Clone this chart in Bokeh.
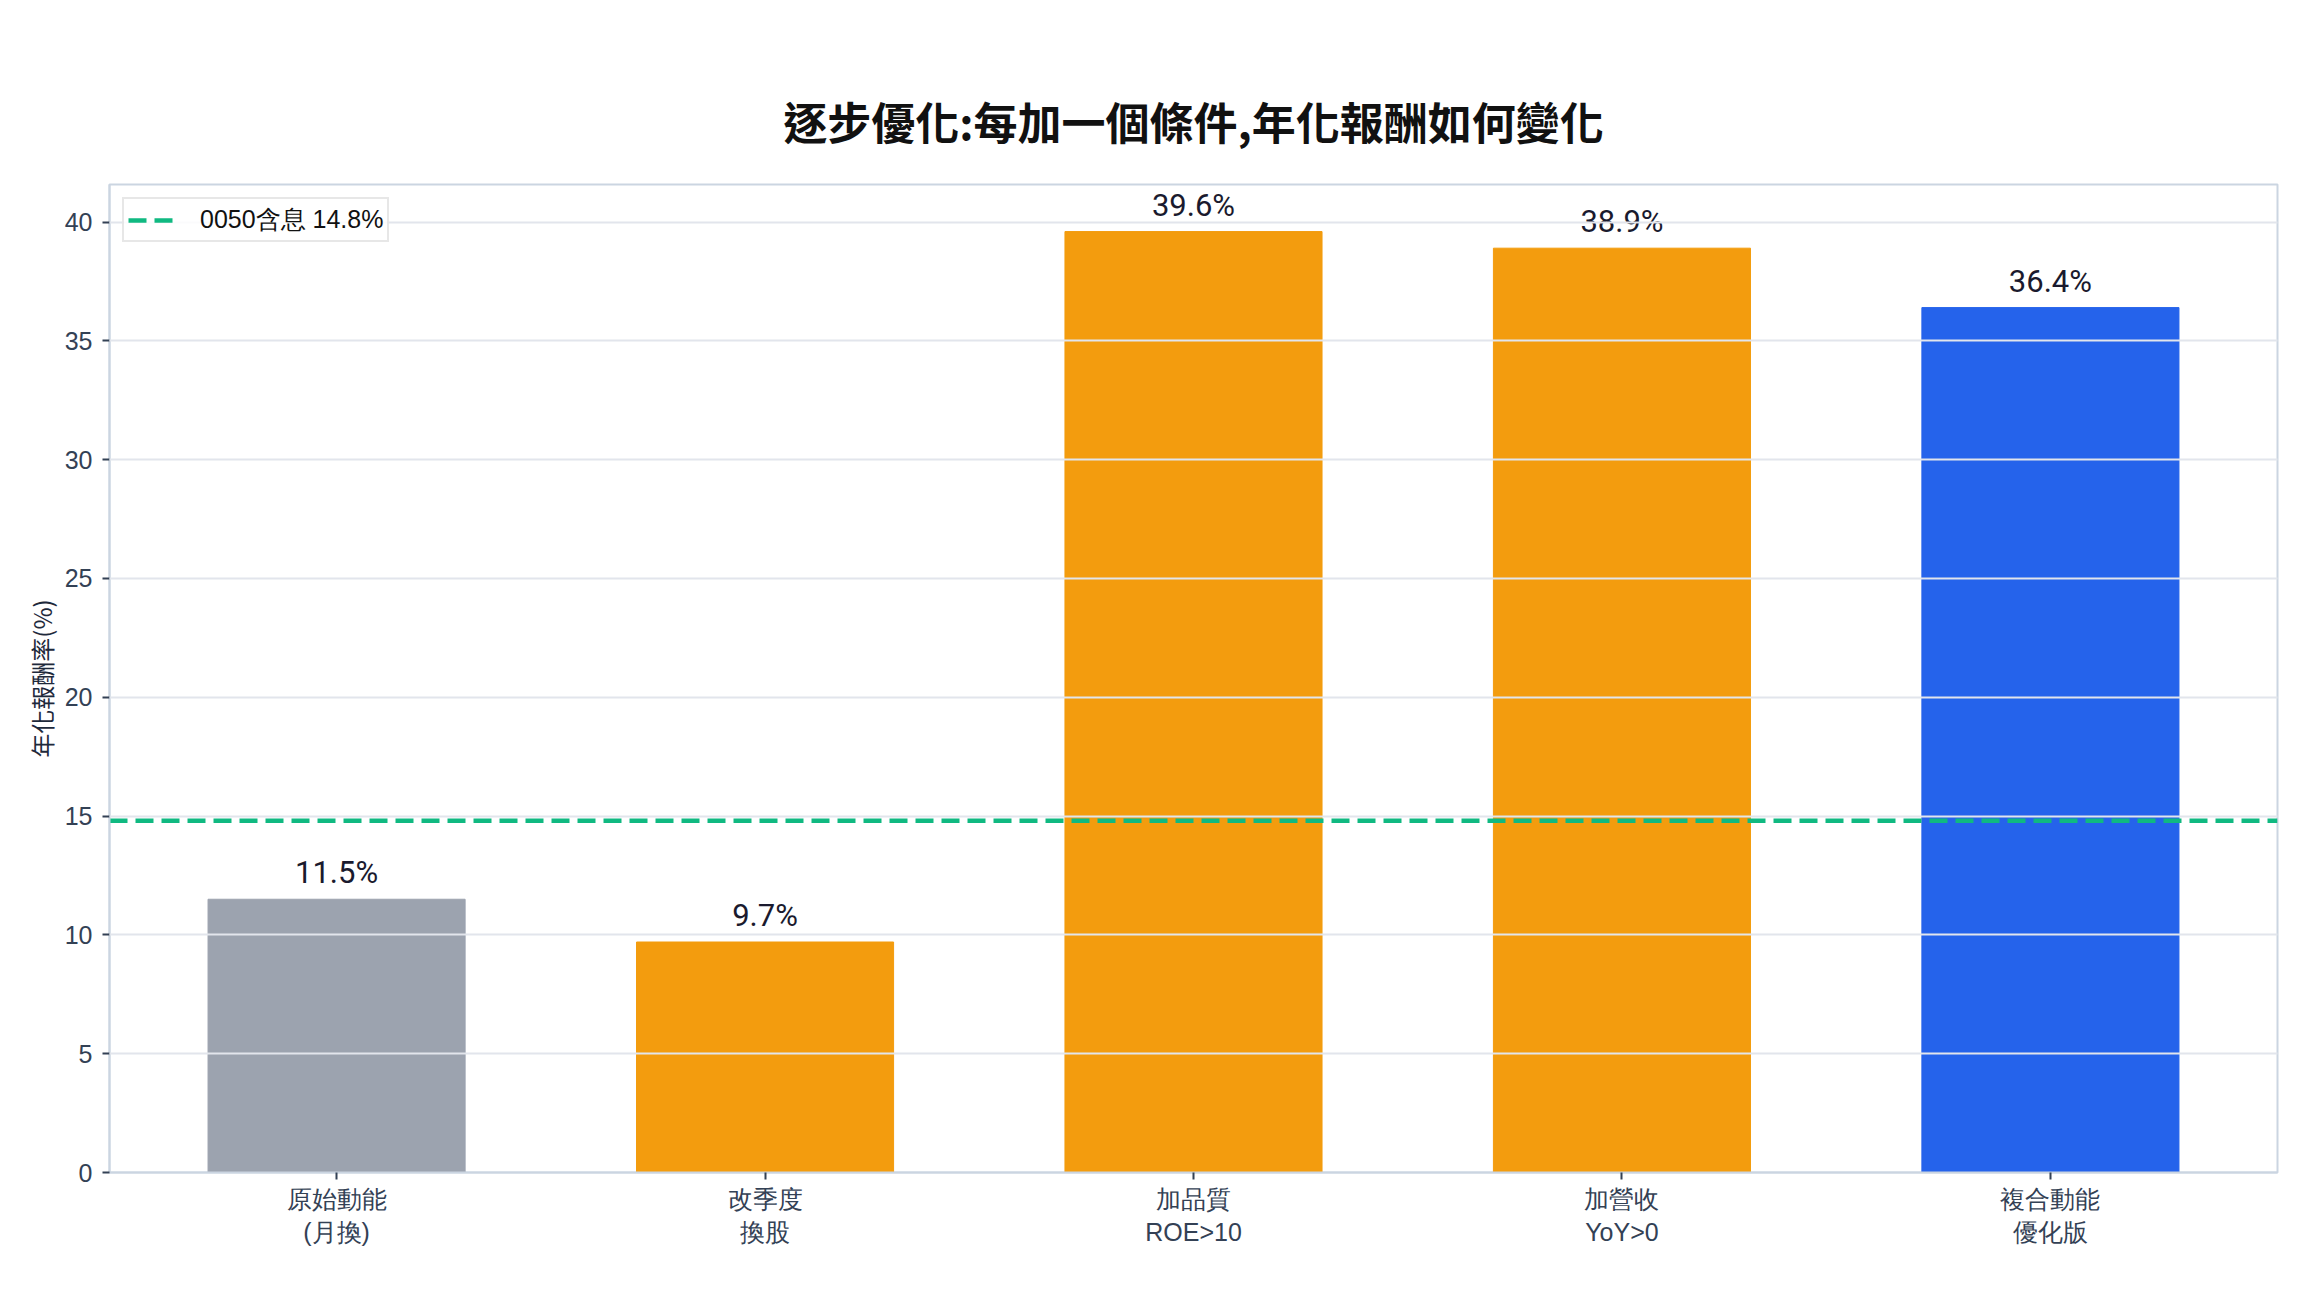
from bokeh.plotting import figure
from bokeh.models import Range1d, FixedTicker, ColumnDataSource
from bokeh.core.properties import value
from bokeh.embed import file_html
from bokeh.resources import INLINE

# data
categories = ["原始動能\n(月換)", "改季度\n換股", "加品質\nROE>10", "加營收\nYoY>0", "複合動能\n優化版"]
returns = [11.5, 9.7, 39.6, 38.9, 36.4]
bar_colors = ["#9ca3af", "#f39c0e", "#f39c0e", "#f39c0e", "#2563eb"]
benchmark = 14.8
benchmark_label = "0050含息 14.8%"
y_ticks = [0, 5, 10, 15, 20, 25, 30, 35, 40]

xs = list(range(len(categories)))
src = ColumnDataSource(dict(
    x=xs,
    top=returns,
    color=bar_colors,
    label=[f"{v}%" for v in returns],
))

p = figure(width=2288, height=1280, output_backend="svg", toolbar_location=None,
           x_range=Range1d(-0.53, 4.53), y_range=Range1d(0, 41.58),
           title="逐步優化:每加一個條件,年化報酬如何變化",
           min_border_left=109, min_border_right=11,
           min_border_top=184, min_border_bottom=108)

p.title.align = "center"
p.title.text_font = "Noto Sans CJK TC"
p.title.text_font_size = "44px"
p.title.text_font_style = "bold"
p.title.text_color = "#111111"
p.title.standoff = 64

p.outline_line_color = "#cbd5e1"
p.outline_line_width = 2
p.background_fill_color = "white"
p.border_fill_color = "white"

# bars
p.vbar(x="x", top="top", width=0.6, color="color", source=src)

# value labels above bars
p.text(x="x", y="top", text="label", source=src, text_align="center",
       text_baseline="bottom", y_offset=-8, text_font_size="31px",
       text_color="#1a1a2e", text_font=value("Roboto"))

# benchmark line
p.line(x=[p.x_range.start, p.x_range.end], y=[benchmark, benchmark],
       line_color="#10b981", line_width=4.5, line_dash="18 8",
       legend_label=benchmark_label)

# grid
p.xgrid.grid_line_color = None
p.ygrid.grid_line_color = "#e2e5ec"
p.ygrid.grid_line_width = 2
p.ygrid.level = "annotation"
p.ygrid.ticker = FixedTicker(ticks=y_ticks)

# axes
p.yaxis.ticker = FixedTicker(ticks=y_ticks)
p.yaxis.axis_label = "年化報酬率(%)"
p.yaxis.axis_label_text_font = "Noto Sans CJK TC"
p.yaxis.axis_label_text_font_size = "24px"
p.yaxis.axis_label_text_font_style = "normal"
p.yaxis.axis_label_text_color = "#1e293b"
p.yaxis.axis_label_standoff = 3
p.yaxis.major_label_standoff = 10

p.xaxis.ticker = FixedTicker(ticks=xs)
p.xaxis.major_label_overrides = {i: c for i, c in zip(xs, categories)}
p.xaxis.major_label_standoff = 5

for ax in (p.xaxis, p.yaxis):
    ax.axis_line_color = "#cbd5e1"
    ax.axis_line_width = 2
    ax.major_tick_in = 0
    ax.major_tick_out = 7
    ax.major_tick_line_color = "#334155"
    ax.major_tick_line_width = 2
    ax.minor_tick_line_color = None
    ax.major_label_text_font = "Liberation Sans"
    ax.major_label_text_font_size = "25px"
    ax.major_label_text_color = "#334155"

# legend
p.legend.location = "top_left"
p.legend.margin = 13
p.legend.padding = 4
p.legend.spacing = 0
p.legend.glyph_width = 46
p.legend.glyph_height = 20
p.legend.label_height = 20
p.legend.label_standoff = 26
p.legend.label_text_font = "Liberation Sans"
p.legend.label_text_font_size = "25px"
p.legend.label_text_color = "#111111"
p.legend.border_line_color = "#d0d0d0"
p.legend.border_line_width = 2
p.legend.background_fill_alpha = 0.85

open("out.html", "w").write(file_html(p, INLINE))
